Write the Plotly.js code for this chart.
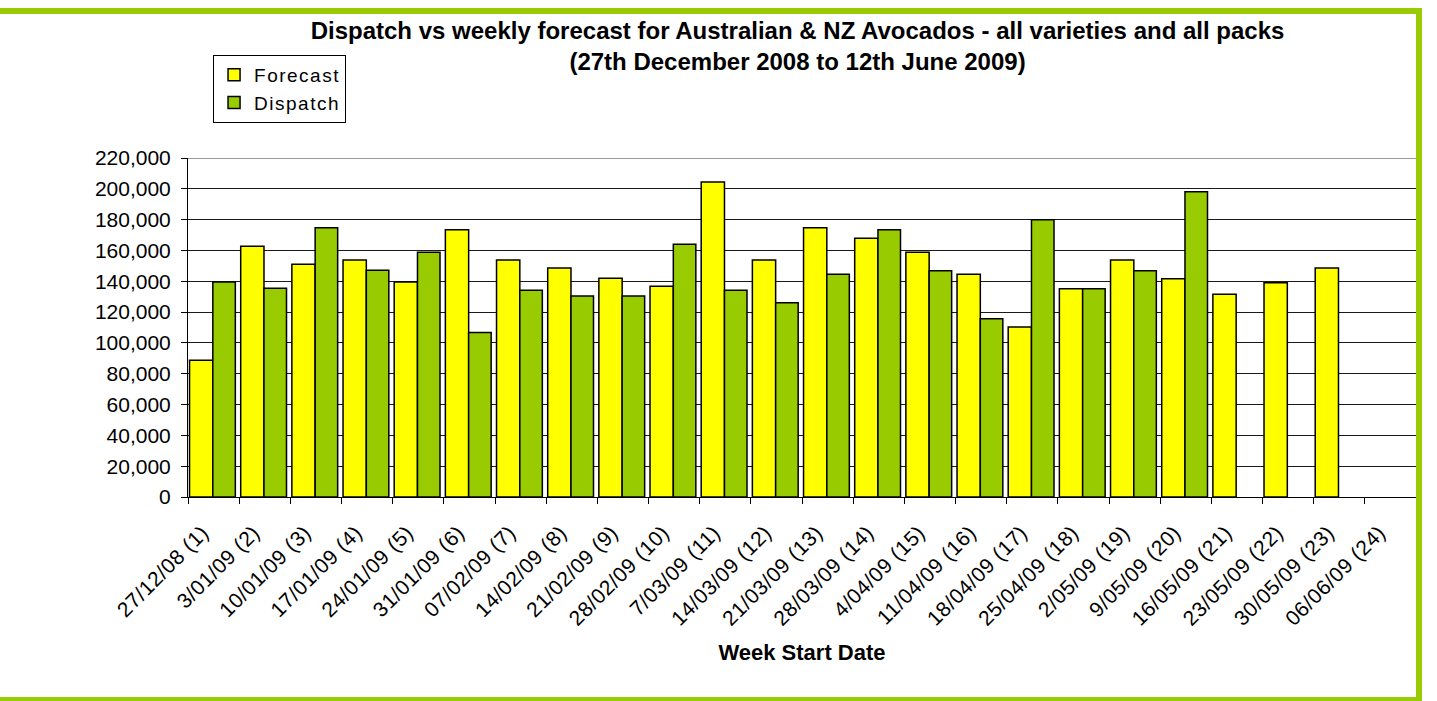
<!DOCTYPE html>
<html>
<head>
<meta charset="utf-8">
<script src="https://cdn.plot.ly/plotly-3.0.1.min.js"></script>
<style>
  html, body { margin: 0; padding: 0; background: #fff; overflow: hidden; }
  #chart { width: 1437px; height: 701px; position: absolute; left: 0; top: 0; }
  #frame { position: absolute; left: -10px; top: 8px; width: 1432px; height: 695px;
           box-sizing: border-box; border: 6px solid #99CC00; pointer-events: none; }
  .xtick text { letter-spacing: 0.5px; }
  .legendtext { letter-spacing: 1.5px; }
</style>
</head>
<body>
<div id="chart"></div>
<div id="frame"></div>
<script>
const weeks = [
  "27/12/08 (1)", "3/01/09 (2)", "10/01/09 (3)", "17/01/09 (4)", "24/01/09 (5)",
  "31/01/09 (6)", "07/02/09 (7)", "14/02/09 (8)", "21/02/09 (9)", "28/02/09 (10)",
  "7/03/09 (11)", "14/03/09 (12)", "21/03/09 (13)", "28/03/09 (14)", "4/04/09 (15)",
  "11/04/09 (16)", "18/04/09 (17)", "25/04/09 (18)", "2/05/09 (19)", "9/05/09 (20)",
  "16/05/09 (21)", "23/05/09 (22)", "30/05/09 (23)", "06/06/09 (24)"
];
const forecast = [
  88700, 162700, 151000, 153800, 139500, 173400, 153800, 148600, 141900, 136700,
  204400, 153800, 174700, 167900, 158800, 144500, 110400, 135200, 153800, 141700,
  131500, 139100, 148600, null
];
const dispatch = [
  139500, 135400, 174700, 147100, 158800, 106700, 134100, 130400, 130400, 164000,
  134100, 126100, 144500, 173400, 146900, 115600, 179900, 135200, 146900, 198100,
  null, null, null, null
];
const yTicks = [0, 20000, 40000, 60000, 80000, 100000, 120000, 140000, 160000, 180000, 200000, 220000];

const FONT = "Arial, 'Liberation Sans', sans-serif";

const traces = [
  {
    type: "bar", name: "Forecast", x: weeks, y: forecast,
    offset: -0.47, width: 0.455,
    marker: { color: "#FFFF00", line: { color: "#000000", width: 1.5 } },
    hoverinfo: "x+y+name"
  },
  {
    type: "bar", name: "Dispatch", x: weeks, y: dispatch,
    offset: -0.015, width: 0.44,
    marker: { color: "#99CC00", line: { color: "#000000", width: 1.5 } },
    hoverinfo: "x+y+name"
  }
];

const layout = {
  width: 1437, height: 701,
  paper_bgcolor: "#ffffff", plot_bgcolor: "#ffffff",
  font: { family: FONT, color: "#000000", size: 21 },
  margin: { l: 188, r: 21, t: 158, b: 204, pad: 0 },
  barmode: "group",
  showlegend: true,
  title: {
    text: "<b>Dispatch vs weekly forecast for Australian & NZ Avocados - all varieties and all packs<br>(27th December 2008 to 12th June 2009)</b>",
    font: { family: FONT, size: 24, color: "#000000" },
    x: 0.555, xanchor: "center", xref: "container",
    y: 0.945, yanchor: "top", yref: "container"
  },
  legend: {
    x: 0.0204, y: 1.304, xanchor: "left", yanchor: "top",
    bgcolor: "#ffffff", bordercolor: "#000000", borderwidth: 1,
    font: { family: FONT, size: 19, color: "#000000" },
    tracegroupgap: 0, itemwidth: 30
  },
  xaxis: {
    type: "category",
    range: [-0.5, 23.5],
    tickson: "boundaries",
    ticks: "outside", ticklen: 6, tickcolor: "#000000", tickwidth: 1,
    showline: true, linecolor: "#000000", linewidth: 1,
    showgrid: false, zeroline: false,
    tickangle: -45,
    ticklabelstandoff: 14,
    ticklabelshift: -11,
    tickfont: { family: FONT, size: 21, color: "#000000" },
    title: { text: "<b>Week Start Date</b>", font: { family: FONT, size: 22, color: "#000000" }, standoff: 15 },
    automargin: false
  },
  yaxis: {
    range: [0, 220000],
    tickvals: yTicks,
    tickformat: ",d",
    ticks: "outside", ticklen: 6, tickcolor: "#000000", tickwidth: 1,
    showline: true, linecolor: "#000000", linewidth: 1,
    showgrid: true, gridcolor: "#1a1a1a", gridwidth: 1,
    zeroline: false,
    ticklabelstandoff: 6,
    tickfont: { family: FONT, size: 21, color: "#000000" },
    automargin: false
  },
  shapes: [
    { type: "line", xref: "paper", yref: "y", x0: 0, x1: 1, y0: 220000, y1: 220000,
      line: { color: "#999999", width: 2 }, layer: "above" }
  ]
};

Plotly.newPlot("chart", traces, layout, { displayModeBar: false, staticPlot: true });
</script>
</body>
</html>
